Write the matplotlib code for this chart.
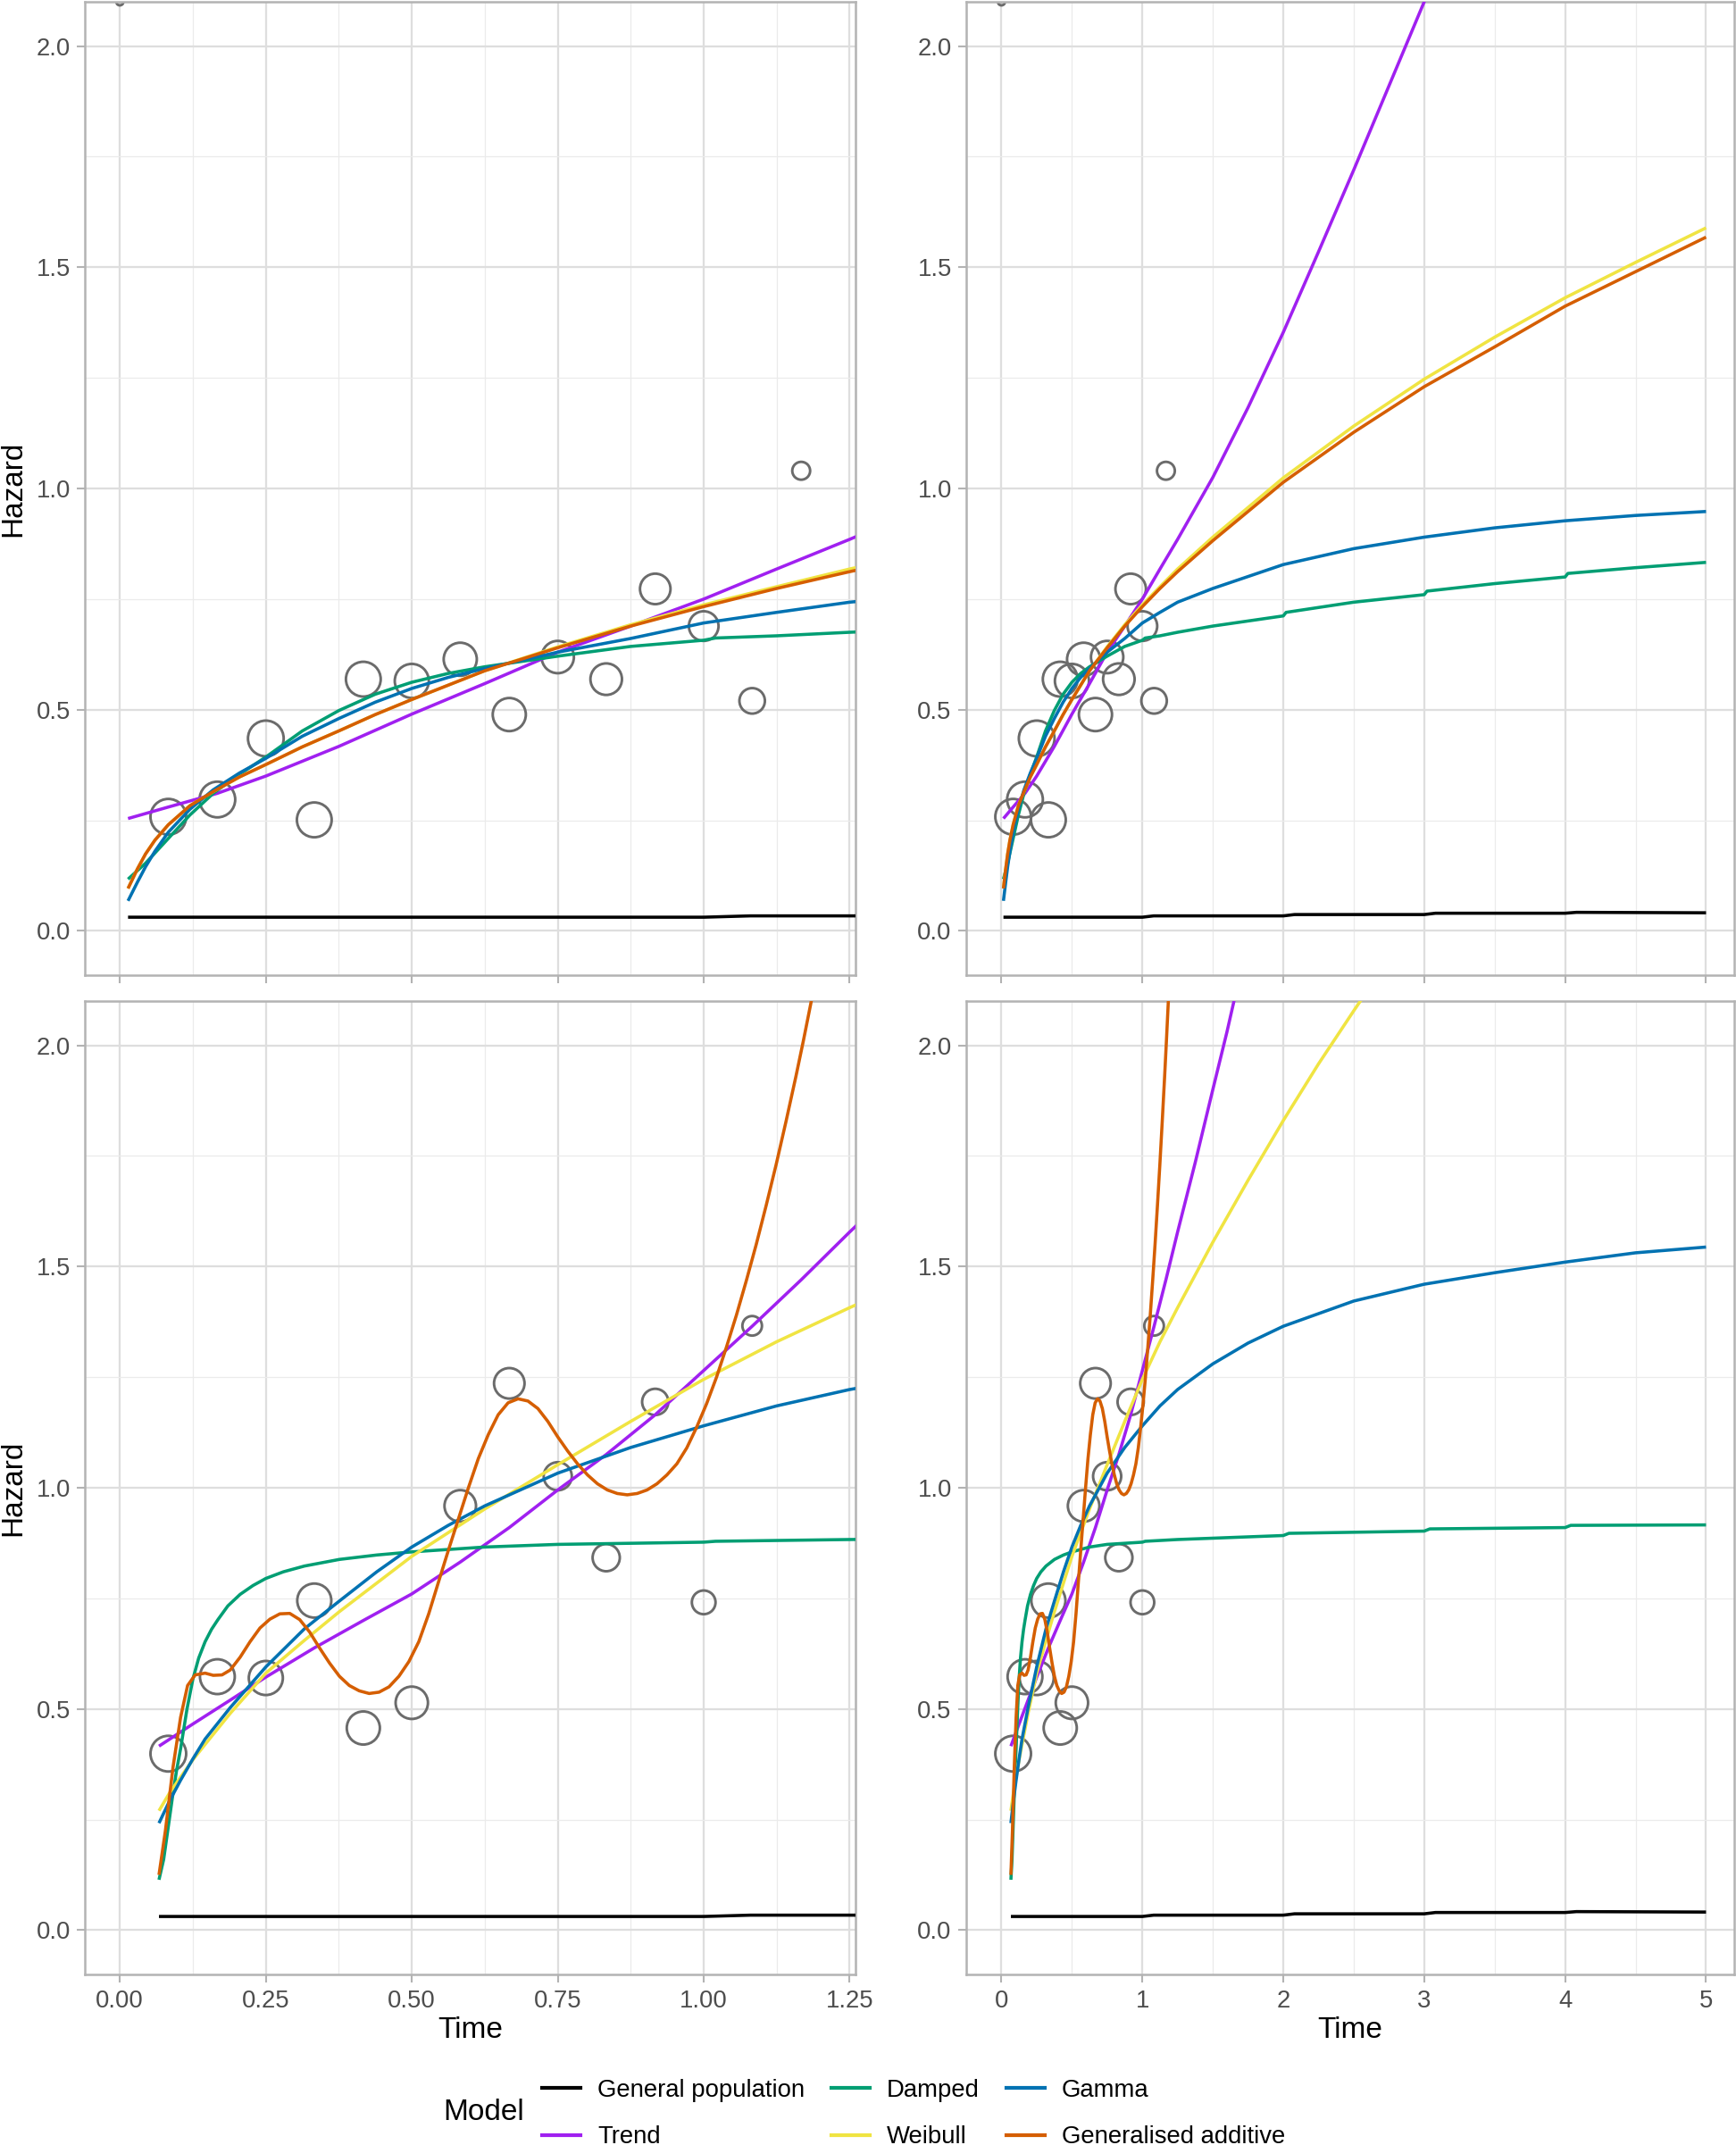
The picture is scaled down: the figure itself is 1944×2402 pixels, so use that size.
import matplotlib
matplotlib.use("Agg")
import matplotlib.pyplot as plt
from matplotlib.lines import Line2D
from matplotlib.ticker import MultipleLocator, FormatStrFormatter

plt.rcParams['font.family'] = ['Liberation Sans', 'DejaVu Sans']

W, H, DPI = 1944, 2402, 300

# observed monthly hazard (circle area ~ number at risk)
obs_t_top = [0.0, 0.083, 0.167, 0.25, 0.333, 0.417, 0.5, 0.583, 0.667, 0.75, 0.833, 0.917, 1.0, 1.083, 1.167]
obs_h_top = [2.10, 0.258, 0.297, 0.435, 0.251, 0.569, 0.565, 0.614, 0.489, 0.619, 0.569, 0.773, 0.689, 0.52, 1.04]
obs_n_top = [4, 100, 100, 100, 95, 95, 91, 86, 86, 82, 78, 73, 69, 51, 25]

obs_t_bot = [0.083, 0.167, 0.25, 0.333, 0.417, 0.5, 0.583, 0.667, 0.75, 0.833, 0.917, 1.0, 1.083]
obs_h_bot = [0.399, 0.573, 0.570, 0.745, 0.457, 0.514, 0.959, 1.236, 1.026, 0.842, 1.194, 0.741, 1.366]
obs_n_bot = [100, 95, 91, 91, 86, 82, 78, 73, 62, 58, 54, 44, 30]

# general population hazard
gp_h = [0.031, 0.031, 0.034, 0.034, 0.037, 0.037, 0.040, 0.040, 0.042, 0.041]
gp_t_top = [0.014, 1.0, 1.08, 2.0, 2.08, 3.0, 3.08, 4.0, 4.08, 5.0]
gp_t_bot = [0.067, 1.0, 1.08, 2.0, 2.08, 3.0, 3.08, 4.0, 4.08, 5.0]

# ---- top row fitted models ----
trend_t_top = [0.014, 0.083, 0.167, 0.25, 0.375, 0.5, 0.625, 0.75, 0.875, 1.0, 1.125, 1.25,
               1.5, 1.75, 2.0, 2.25, 2.5, 2.75, 3.0, 3.1]
trend_h_top = [0.254, 0.28, 0.311, 0.35, 0.417, 0.49, 0.559, 0.63, 0.689, 0.75, 0.818, 0.885,
               1.025, 1.183, 1.353, 1.535, 1.72, 1.91, 2.10, 2.18]

damped_t_top = [0.014, 0.044, 0.083, 0.12, 0.16, 0.205, 0.25, 0.3125, 0.375, 0.4375, 0.5, 0.5625, 0.625,
                0.75, 0.875, 1.0, 1.02, 1.125, 1.25,
                1.5, 2.0, 2.02, 2.5, 3.0, 3.02, 3.5, 4.0, 4.02, 4.5, 5.0]
damped_h_top = [0.117, 0.153, 0.209, 0.262, 0.311, 0.354, 0.393, 0.452, 0.498, 0.535, 0.562, 0.582, 0.597,
                0.621, 0.643, 0.657, 0.662, 0.667, 0.675,
                0.689, 0.712, 0.72, 0.743, 0.760, 0.768, 0.785, 0.80, 0.808, 0.821, 0.833]

gamma_t_top = [0.014, 0.03, 0.044, 0.06, 0.083, 0.12, 0.16, 0.205, 0.25, 0.3125, 0.375, 0.4375, 0.5, 0.5625,
               0.625, 0.75, 0.875, 1.0, 1.125, 1.25,
               1.5, 2.0, 2.5, 3.0, 3.5, 4.0, 4.5, 5.0]
gamma_h_top = [0.068, 0.11, 0.145, 0.18, 0.223, 0.275, 0.319, 0.357, 0.39, 0.44, 0.48, 0.517, 0.548, 0.573,
               0.593, 0.63, 0.661, 0.696, 0.72, 0.743,
               0.774, 0.828, 0.864, 0.89, 0.911, 0.927, 0.939, 0.948]

weib_t_top = [0.014, 0.03, 0.044, 0.06, 0.083, 0.12, 0.16, 0.205, 0.25, 0.3125, 0.375, 0.4375, 0.5, 0.625,
              0.75, 0.875, 1.0, 1.125, 1.25,
              1.5, 2.0, 2.5, 3.0, 3.5, 4.0, 4.5, 5.0]
weib_h_top = [0.096, 0.14, 0.174, 0.205, 0.24, 0.283, 0.315, 0.348, 0.376, 0.416, 0.452, 0.489, 0.523, 0.588,
              0.642, 0.692, 0.737, 0.778, 0.818,
              0.89, 1.024, 1.141, 1.247, 1.342, 1.431, 1.511, 1.589]

gam_t_top = weib_t_top
gam_h_top = [0.096, 0.14, 0.174, 0.205, 0.24, 0.283, 0.315, 0.348, 0.376, 0.416, 0.452, 0.489, 0.523, 0.588,
             0.64, 0.689, 0.733, 0.774, 0.812,
             0.882, 1.014, 1.127, 1.230, 1.32, 1.412, 1.49, 1.568]

# ---- bottom row fitted models ----
trend_t_bot = [0.067, 0.125, 0.189, 0.25, 0.333, 0.417, 0.5, 0.583, 0.667, 0.75, 0.833, 0.917, 1.0,
               1.083, 1.167, 1.25, 1.375, 1.5, 1.6, 1.7]
trend_h_bot = [0.416, 0.466, 0.52, 0.572, 0.638, 0.70, 0.76, 0.832, 0.91, 0.995, 1.075, 1.165, 1.265,
               1.365, 1.47, 1.578, 1.735, 1.90, 2.03, 2.17]

damped_t_bot = [0.067, 0.075, 0.082, 0.09, 0.097, 0.104, 0.115, 0.125, 0.135, 0.146, 0.157, 0.168, 0.185,
                0.206, 0.228, 0.25, 0.28, 0.316, 0.376, 0.44, 0.5, 0.625, 0.75,
                1.0, 1.02, 1.25, 2.0, 2.04, 3.0, 3.04, 4.0, 4.04, 5.0]
damped_h_bot = [0.114, 0.16, 0.225, 0.30, 0.36, 0.41, 0.50, 0.567, 0.615, 0.652, 0.68, 0.702, 0.733,
                0.759, 0.779, 0.795, 0.81, 0.823, 0.838, 0.848, 0.855, 0.866, 0.872,
                0.877, 0.879, 0.883, 0.892, 0.897, 0.902, 0.907, 0.910, 0.915, 0.916]

gamma_t_bot = [0.067, 0.085, 0.104, 0.125, 0.146, 0.189, 0.25, 0.316, 0.376, 0.44, 0.5, 0.5625, 0.625, 0.75,
               0.875, 1.0, 1.125, 1.25, 1.5, 1.75, 2.0, 2.5, 3.0, 3.5, 4.0, 4.5, 5.0]
gamma_h_bot = [0.242, 0.292, 0.339, 0.387, 0.432, 0.503, 0.595, 0.681, 0.744, 0.81, 0.866, 0.915, 0.959, 1.033,
               1.091, 1.14, 1.185, 1.222, 1.28, 1.327, 1.365, 1.422, 1.46, 1.486, 1.51, 1.531, 1.544]

weib_t_bot = [0.067, 0.085, 0.104, 0.125, 0.146, 0.189, 0.25, 0.316, 0.376, 0.5, 0.625, 0.75, 0.875, 1.0,
              1.125, 1.25, 1.5, 1.75, 2.0, 2.25, 2.5, 2.6]
weib_h_bot = [0.27, 0.31, 0.346, 0.385, 0.42, 0.49, 0.581, 0.655, 0.72, 0.845, 0.952, 1.052, 1.15, 1.245,
              1.33, 1.407, 1.555, 1.695, 1.83, 1.958, 2.078, 2.125]

gam_t_bot = [0.067, 0.078, 0.091, 0.104, 0.116, 0.129, 0.146, 0.16, 0.175, 0.189, 0.206, 0.223, 0.24,
             0.257, 0.274, 0.291, 0.308, 0.325, 0.342, 0.359, 0.376, 0.393, 0.41, 0.427, 0.444, 0.461,
             0.478, 0.495, 0.512, 0.529, 0.546, 0.563, 0.58, 0.597, 0.614, 0.631, 0.648, 0.665, 0.682,
             0.699, 0.716, 0.733, 0.75, 0.767, 0.784, 0.801, 0.818, 0.835, 0.852, 0.869, 0.886, 0.903,
             0.92, 0.937, 0.954, 0.971, 0.988, 1.005, 1.022, 1.039, 1.056, 1.073, 1.09, 1.107, 1.124,
             1.141, 1.158, 1.171, 1.184, 1.2]
gam_h_bot = [0.125, 0.225, 0.368, 0.481, 0.553, 0.577, 0.581, 0.576, 0.577, 0.588, 0.617, 0.652, 0.683,
             0.703, 0.715, 0.716, 0.702, 0.674, 0.638, 0.604, 0.574, 0.553, 0.541, 0.535, 0.538, 0.55,
             0.574, 0.607, 0.652, 0.715, 0.788, 0.86, 0.93, 1.0, 1.066, 1.12, 1.165, 1.192, 1.201,
             1.196, 1.179, 1.15, 1.115, 1.083, 1.054, 1.029, 1.009, 0.995, 0.987, 0.984, 0.987, 0.995,
             1.009, 1.029, 1.054, 1.09, 1.137, 1.19, 1.25, 1.318, 1.39, 1.468, 1.55, 1.638, 1.73,
             1.828, 1.93, 2.012, 2.098, 2.21]

labels = ["General population", "Trend", "Damped", "Weibull", "Gamma", "Generalised additive"]
colors = ["#000000", "#A020F0", "#009E73", "#F0E442", "#0072B2", "#D55E00"]

top_models = [(gp_t_top, gp_h), (trend_t_top, trend_h_top), (damped_t_top, damped_h_top),
              (weib_t_top, weib_h_top), (gamma_t_top, gamma_h_top), (gam_t_top, gam_h_top)]
bot_models = [(gp_t_bot, gp_h), (trend_t_bot, trend_h_bot), (damped_t_bot, damped_h_bot),
              (weib_t_bot, weib_h_bot), (gamma_t_bot, gamma_h_bot), (gam_t_bot, gam_h_bot)]

fig = plt.figure(figsize=(W / DPI, H / DPI), dpi=DPI)


def px_axes(x0, y0, x1, y1):
    return fig.add_axes([x0 / W, 1 - y1 / H, (x1 - x0) / W, (y1 - y0) / H])


def draw_panel(ax, obs, models, xlim, xmaj, xfmt, show_x):
    ax.set_xlim(*xlim)
    ax.set_ylim(-0.1, 2.1)
    t, h, n = obs
    ax.scatter(t, h, s=[v * 0.92 for v in n], facecolors='none', edgecolors='#6b6b6b',
               linewidths=0.7, zorder=2)
    for (mt, mh), c in zip(models, colors):
        ax.plot(mt, mh, color=c, lw=0.85, zorder=3, solid_capstyle='butt', solid_joinstyle='round')
    ax.xaxis.set_major_locator(MultipleLocator(xmaj))
    ax.xaxis.set_minor_locator(MultipleLocator(xmaj / 2))
    ax.yaxis.set_major_locator(MultipleLocator(0.5))
    ax.yaxis.set_minor_locator(MultipleLocator(0.25))
    ax.xaxis.set_major_formatter(FormatStrFormatter(xfmt))
    ax.yaxis.set_major_formatter(FormatStrFormatter('%.1f'))
    ax.grid(which='major', color='#DEDEDE', lw=0.55, zorder=0)
    ax.grid(which='minor', color='#EBEBEB', lw=0.3, zorder=0)
    ax.set_axisbelow(True)
    for s in ax.spines.values():
        s.set_color('#B3B3B3')
        s.set_linewidth(0.6)
    ax.tick_params(which='major', length=2.2, width=0.5, color='#B3B3B3',
                   labelsize=6.6, labelcolor='#4D4D4D')
    ax.tick_params(axis='x', pad=1.9, labelbottom=show_x)
    ax.tick_params(axis='y', pad=1.7)
    ax.tick_params(which='minor', length=0)


ax_tl = px_axes(95, 2, 958, 1092)
ax_tr = px_axes(1082, 2, 1942, 1092)
ax_bl = px_axes(95, 1121, 958, 2211)
ax_br = px_axes(1082, 1121, 1942, 2211)

draw_panel(ax_tl, (obs_t_top, obs_h_top, obs_n_top), top_models, (-0.06, 1.26), 0.25, '%.2f', False)
draw_panel(ax_tr, (obs_t_top, obs_h_top, obs_n_top), top_models, (-0.25, 5.2), 1, '%d', False)
draw_panel(ax_bl, (obs_t_bot, obs_h_bot, obs_n_bot), bot_models, (-0.06, 1.26), 0.25, '%.2f', True)
draw_panel(ax_br, (obs_t_bot, obs_h_bot, obs_n_bot), bot_models, (-0.25, 5.2), 1, '%d', True)

# axis titles
for yc in [(2 + 1092) / 2, (1121 + 2211) / 2]:
    fig.text(15 / W, 1 - yc / H, "Hazard", rotation=90, ha='center', va='center', fontsize=8)
for xc in [(95 + 958) / 2, (1082 + 1942) / 2]:
    fig.text(xc / W, 1 - 2274 / H, "Time", ha='center', va='center', fontsize=8)

# legend
handles = [Line2D([], [], color=c, lw=1.0) for c in colors]
fig.text(496 / W, 1 - 2366 / H, "Model", ha='left', va='center', fontsize=8)
fig.legend(handles, labels, ncol=3, loc='center left', bbox_to_anchor=(607 / W, 1 - 2367 / H),
           frameon=False, fontsize=6.6, handlelength=1.56, handletextpad=0.69,
           columnspacing=1.09, labelspacing=0.96, borderpad=0, borderaxespad=0)

fig.savefig("out.png", dpi=DPI)
